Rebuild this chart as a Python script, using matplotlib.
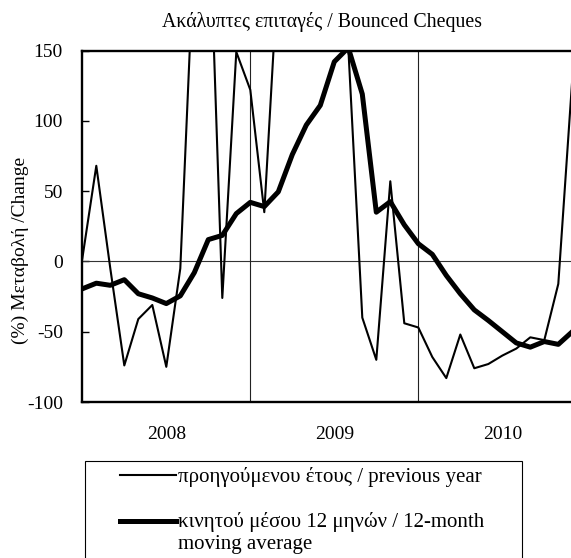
import matplotlib
matplotlib.use("Agg")
import matplotlib.pyplot as plt
from matplotlib.patches import Rectangle

plt.rcParams['font.family'] = ['Liberation Serif', 'DejaVu Serif']
plt.rcParams['axes.unicode_minus'] = False

# μηνιαία στοιχεία, Ιαν 2008 - Δεκ 2010
months = list(range(36))
prev_year = [2, 68, -5, -74, -41, -31, -75, -5, 225, 270, -26, 149,
             122, 35, 210, 250, 290, 260, 220, 152, -40, -70, 57, -44,
             -47, -68, -83, -52, -76, -73, -67, -62, -54, -56, -16, 130]
moving_avg = [-19.5, -15.5, -17, -13, -23, -26, -30, -24.5, -8, 15.5, 18.5, 34,
              42, 39, 49.5, 76, 97, 111, 142, 152, 119, 35, 42.5, 26,
              12.6, 5, -10, -23, -34.5, -42, -50, -58, -61, -57, -59, -50]
year_labels = ['2008', '2009', '2010']
year_starts = [0, 12, 24]
y_ticks = [-100, -50, 0, 50, 100, 150]

title = 'Ακάλυπτες επιταγές / Bounced Cheques'
ylabel = '(%) Μεταβολή /Change'
label_prev = 'προηγούμενου έτους / previous year'
label_ma = 'κινητού μέσου 12 μηνών / 12-month\nmoving average'

W, H = 571, 558
fig = plt.figure(figsize=(W / 100, H / 100), dpi=100)

# axes: αριστερά 82px, πάνω 50.5px, κάτω 402px, δεξιά στην άκρη
ax = fig.add_axes([82.3 / W, 1 - 402 / H, (W - 82.3) / W, (402 - 50.5) / H])

ax.plot(months, prev_year, color='black', lw=1.5, label=label_prev, zorder=3)
ax.plot(months, moving_avg, color='black', lw=3.6, label=label_ma, zorder=4)

ax.set_xlim(0, (W - 82.3) / 14)
ax.set_ylim(-100, 150)

# γραμμή μηδέν και διαχωριστικά ετών
ax.axhline(0, color='#333333', lw=0.8, zorder=2)
for xs in year_starts[1:]:
    ax.axvline(xs, color='#222222', lw=0.8, zorder=2)

ax.set_yticks(y_ticks)
ax.tick_params(axis='y', direction='in', length=5, width=1, pad=14, labelsize=14)
ax.set_xticks([])
ax.set_xticks([s + 6 for s in year_starts], minor=True)
ax.set_xticklabels(year_labels, minor=True)
ax.tick_params(axis='x', which='minor', length=0, pad=17, labelsize=14)

for side in ['left', 'top', 'bottom']:
    ax.spines[side].set_linewidth(1.7)
ax.spines['right'].set_visible(False)

fig.text(322 / W, 1 - 22 / H, title, ha='center', va='center', fontsize=14.3)
fig.text(20 / W, 1 - 250 / H, ylabel, ha='center', va='center',
         rotation=90, fontsize=14)

# υπόμνημα
fig.patches.append(Rectangle((85 / W, -0.05), (522 - 85) / W, 0.05 + 1 - 461 / H,
                             transform=fig.transFigure, fill=False,
                             edgecolor='black', lw=0.8))
leg = fig.legend(loc='upper left', bbox_to_anchor=(120 / W, 1 - 467 / H),
                 frameon=False, borderpad=0, borderaxespad=0, fontsize=15,
                 handlelength=2.7, handletextpad=0.1, labelspacing=1.2)
leg.get_texts()[1].set_linespacing(1.25)
# η χοντρή γραμμή στο ύψος της πρώτης γραμμής του κειμένου
ma_handle = leg.get_lines()[1]
ma_handle.set_ydata([y + 8.5 for y in ma_handle.get_ydata()])

fig.savefig('out.png', dpi=100)
